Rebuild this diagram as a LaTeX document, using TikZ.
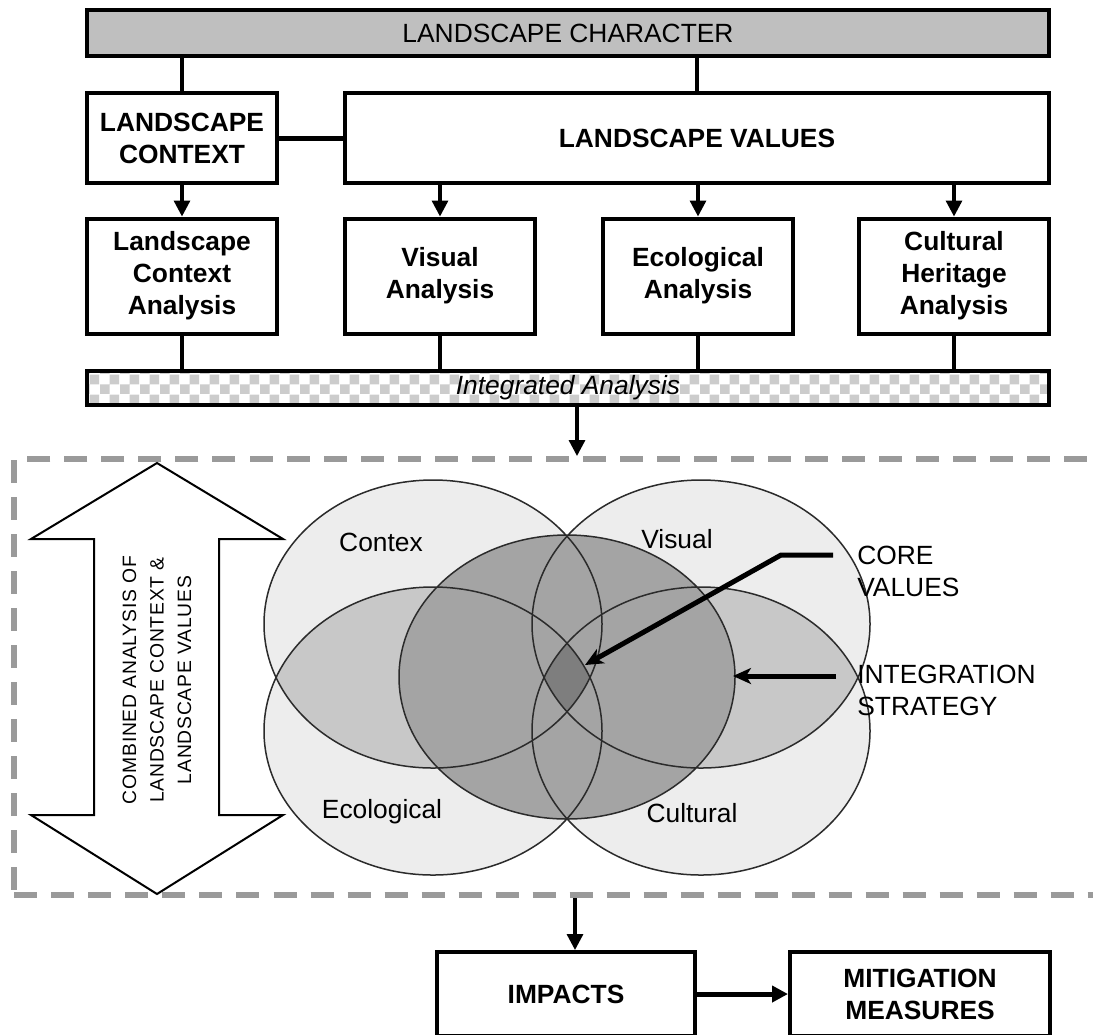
\documentclass[tikz,border=0pt]{standalone}
\usepackage{fontspec}
\setmainfont{Liberation Sans}
\newfontfamily\spacedfont[LetterSpace=4]{Liberation Sans}
\usepackage{xcolor}
\usepackage{tikz}
\usetikzlibrary{arrows.meta}
\usetikzlibrary{positioning, patterns}
\definecolor{venn light}{HTML}{EDEDED}
\definecolor{venn mid}{HTML}{C8C8C8}
\definecolor{venn dark}{HTML}{A4A4A4}
\definecolor{venn core}{HTML}{7E7E7E}
\definecolor{venn line}{HTML}{2B2B2B}
\definecolor{frame grey}{HTML}{9A9A9A}
\tikzset{
bar/.style = { rectangle, draw = black, line width = 0.8mm, minimum width = 192.4mm, inner sep = 0pt, font = \fontsize{15}{18.2}\selectfont },
value box/.style = { rectangle, draw = black, fill = white, line width = 0.8mm, minimum width = 38mm, minimum height = 23mm, align = center, font = \fontsize{15}{18.2}\selectfont\bfseries },
dashed frame/.style = { rectangle, draw = frame grey, line width = 1.2mm, dash pattern = on 4.6mm off 2.8mm, minimum width = 219mm, minimum height = 87.2mm },
link/.style = { line width = 0.65mm },
flow/.style = { line width = 0.65mm, -{Triangle[length = 3.2mm, width = 3.2mm]} },
pointer/.style = { line width = 1mm, -{Stealth[length = 3.6mm, width = 3.2mm, inset = 1mm]} },
venn label/.style = { font = \fontsize{15}{18.2}\selectfont },
side label/.style = { font = \fontsize{15}{18.2}\selectfont, align = left, inner sep = 0pt, anchor = west },
}
\newcommand{\contexcircle}{(433, 624) ellipse [x radius = 33.8mm, y radius = 28.8mm]}
\newcommand{\visualcircle}{(701, 624) ellipse [x radius = 33.8mm, y radius = 28.8mm]}
\newcommand{\ecologicalcircle}{(433, 731) ellipse [x radius = 33.8mm, y radius = 28.8mm]}
\newcommand{\culturalcircle}{(701, 731) ellipse [x radius = 33.8mm, y radius = 28.8mm]}
\newcommand{\strategycircle}{(567, 677) ellipse [x radius = 33.6mm, y radius = 28.4mm]}

\begin{document}
\begin{tikzpicture}[x = 0.2mm, y = -0.2mm]
      \fill[white, use as bounding box] (0, 0) rectangle (1093, 1034);

      % boxes above the frame
      \node[bar, fill = gray!50, minimum height = 9.2mm] (character) at (568, 33) {LANDSCAPE CHARACTER};
      \node[value box, minimum height = 18mm] (context) at (182, 138) {LANDSCAPE\\CONTEXT};
      \node[value box, minimum width = 140.8mm, minimum height = 18mm] (values) at (697, 138) {LANDSCAPE VALUES};
      \node[value box] (context analysis) at (182, 276) {Landscape\\Context\\Analysis};
      \node[value box] (visual analysis) at (440, 276) {Visual\\Analysis};
      \node[value box] (ecological analysis) at (698, 276) {Ecological\\Analysis};
      \node[value box] (heritage analysis) at (954, 276) {Cultural\\Heritage\\Analysis};
      \node[bar, minimum height = 6.8mm, pattern color = gray!40, pattern = checkerboard, font = \fontsize{15}{18.2}\selectfont\itshape] (integrated) at (568, 388) {Integrated Analysis};

      \draw[link] (character.south -| context.north) -- (context.north);
      \draw[link] (character.south -| values.north) -- (values.north);
      \draw[link, line width = 1mm] (context.east) -- (values.west);
      \draw[flow] (context.south) -- (context analysis.north);
      \foreach \analysis in {visual analysis, ecological analysis, heritage analysis}
        \draw[flow] (values.south -| \analysis.north) -- (\analysis.north);
      \foreach \analysis in {context analysis, visual analysis, ecological analysis, heritage analysis}
        \draw[link] (\analysis.south) -- (\analysis.south |- integrated.north);

      % frame with the combined analysis
      \node[dashed frame] (integration frame) at (562, 677) {};
      \draw[flow] ([xshift = 1.8mm]integrated.south) -- ([xshift = 1.8mm]integrated.south |- integration frame.north);

      \draw[line width = 0.4mm, fill = white] (157, 463) -- (283, 539) -- (219, 539) -- (219, 815) -- (283, 815) -- (157, 894) -- (31, 815) -- (94, 815) -- (94, 539) -- (31, 539) -- cycle;
      \node[rotate = 90, align = center, font = \spacedfont\fontsize{11}{15.6}\selectfont] (combined) at (157, 680) {COMBINED ANALYSIS OF\\LANDSCAPE CONTEXT \&\\LANDSCAPE VALUES};

      \fill[venn light] \contexcircle \visualcircle \ecologicalcircle \culturalcircle;
      \begin{scope}
        \clip \contexcircle;
        \fill[venn mid] \ecologicalcircle;
      \end{scope}
      \begin{scope}
        \clip \visualcircle;
        \fill[venn mid] \culturalcircle;
      \end{scope}
      \fill[venn dark] \strategycircle;
      \begin{scope}
        \clip \contexcircle;
        \clip \visualcircle;
        \clip \ecologicalcircle;
        \fill[venn core] \culturalcircle;
      \end{scope}
      \draw[venn line, line width = 0.3mm] \contexcircle \visualcircle \ecologicalcircle \culturalcircle \strategycircle;

      \node[venn label] (contex label) at (381, 542) {Contex};
      \node[venn label] (visual label) at (677, 539) {Visual};
      \node[venn label] (ecological label) at (382, 812) {Ecological};
      \node[venn label] (cultural label) at (692, 813) {Cultural};

      \node[side label] (core values) at (857, 571) {CORE\\VALUES};
      \node[side label] (strategy) at (857, 690) {INTEGRATION\\STRATEGY};
      \coordinate (core bend) at (781, 555);
      \coordinate (core tip) at (585, 665);
      \coordinate (strategy tip) at (733, 676);
      \draw[pointer] ([xshift = -4.8mm]core values.west |- core bend) -- (core bend) -- (core tip);
      \draw[pointer] ([xshift = -4.2mm]strategy.west |- strategy tip) -- (strategy tip);

      % boxes below the frame
      \node[value box, minimum width = 51.5mm, minimum height = 16.8mm] (impacts) at (566, 994) {IMPACTS};
      \node[value box, minimum width = 52mm, minimum height = 16.8mm] (mitigation) at (920, 994) {MITIGATION\\MEASURES};
      \draw[flow] ([xshift = 1.8mm]impacts.north |- integration frame.south) -- ([xshift = 1.8mm]impacts.north);
      \draw[flow, line width = 1mm] (impacts.east) -- (mitigation.west);
\end{tikzpicture}
\end{document}
